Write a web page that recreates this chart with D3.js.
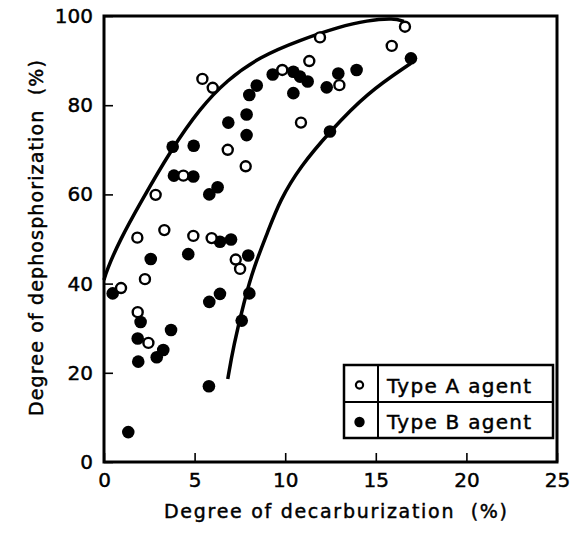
<!DOCTYPE html>
<html><head><meta charset="utf-8">
<script src="https://cdn.jsdelivr.net/npm/d3@7"></script>
<style>
body{margin:0;background:#fff}
svg text{font-family:"DejaVu Sans",sans-serif;fill:#000;stroke:#000;stroke-width:0.45px}
</style>
</head><body>
<svg id="chart" width="570" height="537"></svg>
<script>
// ---------- data ----------
const xTicks = [0, 5, 10, 15, 20, 25];
const yTicks = [0, 20, 40, 60, 80, 100];
const xTitle = "Degree of decarburization  (%)";
const yTitle = "Degree of dephosphorization  (%)";
const legendLabels = ["Type A agent", "Type B agent"];

// Type A agent (open circles)
const typeA_x = [0.94, 1.84, 2.26, 1.86, 2.45, 2.85, 3.33, 4.38, 4.93, 5.43, 6.00, 5.94, 6.83, 7.82, 7.27, 7.51, 9.84, 10.87, 11.33, 11.92, 12.99, 15.88, 16.61];
const typeA_y = [39.0, 50.3, 41.0, 33.6, 26.7, 59.9, 52.0, 64.2, 50.7, 85.9, 83.9, 50.2, 70.0, 66.3, 45.4, 43.3, 87.9, 76.1, 89.9, 95.2, 84.5, 93.3, 97.6];

// Type B agent (filled circles)
const typeB_x = [0.48, 1.34, 2.02, 1.86, 1.89, 3.70, 3.27, 2.91, 5.79, 2.58, 4.65, 5.81, 6.40, 6.40, 7.01, 7.96, 8.02, 7.60, 3.86, 4.93, 5.81, 6.27, 3.79, 4.95, 6.86, 7.87, 7.87, 8.02, 8.43, 9.31, 10.45, 10.82, 11.24, 10.45, 12.29, 12.93, 13.94, 16.94, 12.47];
const typeB_y = [37.8, 6.7, 31.4, 27.7, 22.5, 29.6, 25.1, 23.5, 17.0, 45.5, 46.6, 35.9, 37.7, 49.4, 49.9, 46.3, 37.8, 31.7, 64.2, 64.0, 60.0, 61.6, 70.7, 70.9, 76.1, 77.9, 73.3, 82.3, 84.4, 86.9, 87.5, 86.4, 85.3, 82.7, 84.0, 87.1, 87.9, 90.5, 74.1];

// hand-drawn envelope curves
const upper_x = [0, 0.15, 0.88, 1.99, 3.73, 5.30, 6.77, 8.61, 10.82, 13.0, 14.5, 16.0, 16.55];
const upper_y = [40.8, 43.0, 49.8, 58.0, 70.2, 79.3, 85.6, 90.9, 94.6, 97.6, 99.0, 99.5, 98.8];
const lower_x = [6.83, 7.14, 7.75, 8.28, 9.01, 9.71, 10.82, 12.47, 14.5, 16.94];
const lower_y = [18.6, 25.9, 36.3, 43.8, 51.3, 58.7, 66.2, 74.1, 82.7, 89.4];

// ---------- layout ----------
const svg = d3.select("#chart");
const x = d3.scaleLinear().domain([0, 25]).range([104, 557]);
const y = d3.scaleLinear().domain([0, 100]).range([462, 16]);

// axes (inward ticks)
const gx = svg.append("g").attr("transform", `translate(0,${y(0)})`)
  .call(d3.axisBottom(x).tickValues(xTicks).tickSize(-9).tickPadding(11).tickFormat(d3.format("d")));
const gy = svg.append("g").attr("transform", `translate(${x(0)},0)`)
  .call(d3.axisLeft(y).tickValues(yTicks).tickSize(-9).tickPadding(11).tickFormat(d3.format("d")));
[gx, gy].forEach(g => {
  g.select(".domain").remove();
  g.selectAll(".tick line").attr("stroke", "#000").attr("stroke-width", 1.6);
  g.selectAll(".tick text").attr("font-size", 20).attr("font-family", "DejaVu Sans").attr("fill", "#000");
});

// frame
svg.append("rect").attr("x", x(0)).attr("y", y(100))
  .attr("width", x(25) - x(0)).attr("height", y(0) - y(100))
  .attr("fill", "none").attr("stroke", "#000").attr("stroke-width", 3);

// curves
const line = d3.line().x(d => x(d[0])).y(d => y(d[1])).curve(d3.curveBasis);
svg.append("path").datum(upper_x.map((v, i) => [v, upper_y[i]]))
  .attr("d", line).attr("fill", "none").attr("stroke", "#000").attr("stroke-width", 3.5);
svg.append("path").datum(lower_x.map((v, i) => [v, lower_y[i]]))
  .attr("d", line).attr("fill", "none").attr("stroke", "#000").attr("stroke-width", 3.5);

// points
svg.append("g").selectAll("circle").data(typeB_x.map((v, i) => [v, typeB_y[i]])).join("circle")
  .attr("cx", d => x(d[0])).attr("cy", d => y(d[1])).attr("r", 6.3).attr("fill", "#000");
svg.append("g").selectAll("circle").data(typeA_x.map((v, i) => [v, typeA_y[i]])).join("circle")
  .attr("cx", d => x(d[0])).attr("cy", d => y(d[1])).attr("r", 5)
  .attr("fill", "#fff").attr("stroke", "#000").attr("stroke-width", 2.4);

// axis titles
svg.append("text").attr("x", 164).attr("y", 518).attr("font-size", 19)
  .attr("textLength", 343).attr("lengthAdjust", "spacing").style("white-space", "pre")
  .text(xTitle);
svg.append("text").attr("transform", "translate(43,416) rotate(-90)").attr("font-size", 19)
  .attr("textLength", 356).attr("lengthAdjust", "spacing").style("white-space", "pre")
  .text(yTitle);

// legend
const lg = svg.append("g");
lg.append("rect").attr("x", 344).attr("y", 365).attr("width", 209).attr("height", 73)
  .attr("fill", "#fff").attr("stroke", "#000").attr("stroke-width", 2.5);
lg.append("line").attr("x1", 378).attr("x2", 378).attr("y1", 365).attr("y2", 438).attr("stroke", "#000").attr("stroke-width", 2);
lg.append("line").attr("x1", 344).attr("x2", 553).attr("y1", 402).attr("y2", 402).attr("stroke", "#000").attr("stroke-width", 1.8);
lg.append("circle").attr("cx", 359.5).attr("cy", 385).attr("r", 3.6).attr("fill", "#fff").attr("stroke", "#000").attr("stroke-width", 2.2);
lg.append("circle").attr("cx", 359.5).attr("cy", 422).attr("r", 5.2).attr("fill", "#000");
legendLabels.forEach((t, i) => {
  lg.append("text").attr("x", 387).attr("y", 393 + i * 36).attr("font-size", 20)
    .attr("textLength", 144).attr("lengthAdjust", "spacing").text(t);
});
</script>
</body></html>
